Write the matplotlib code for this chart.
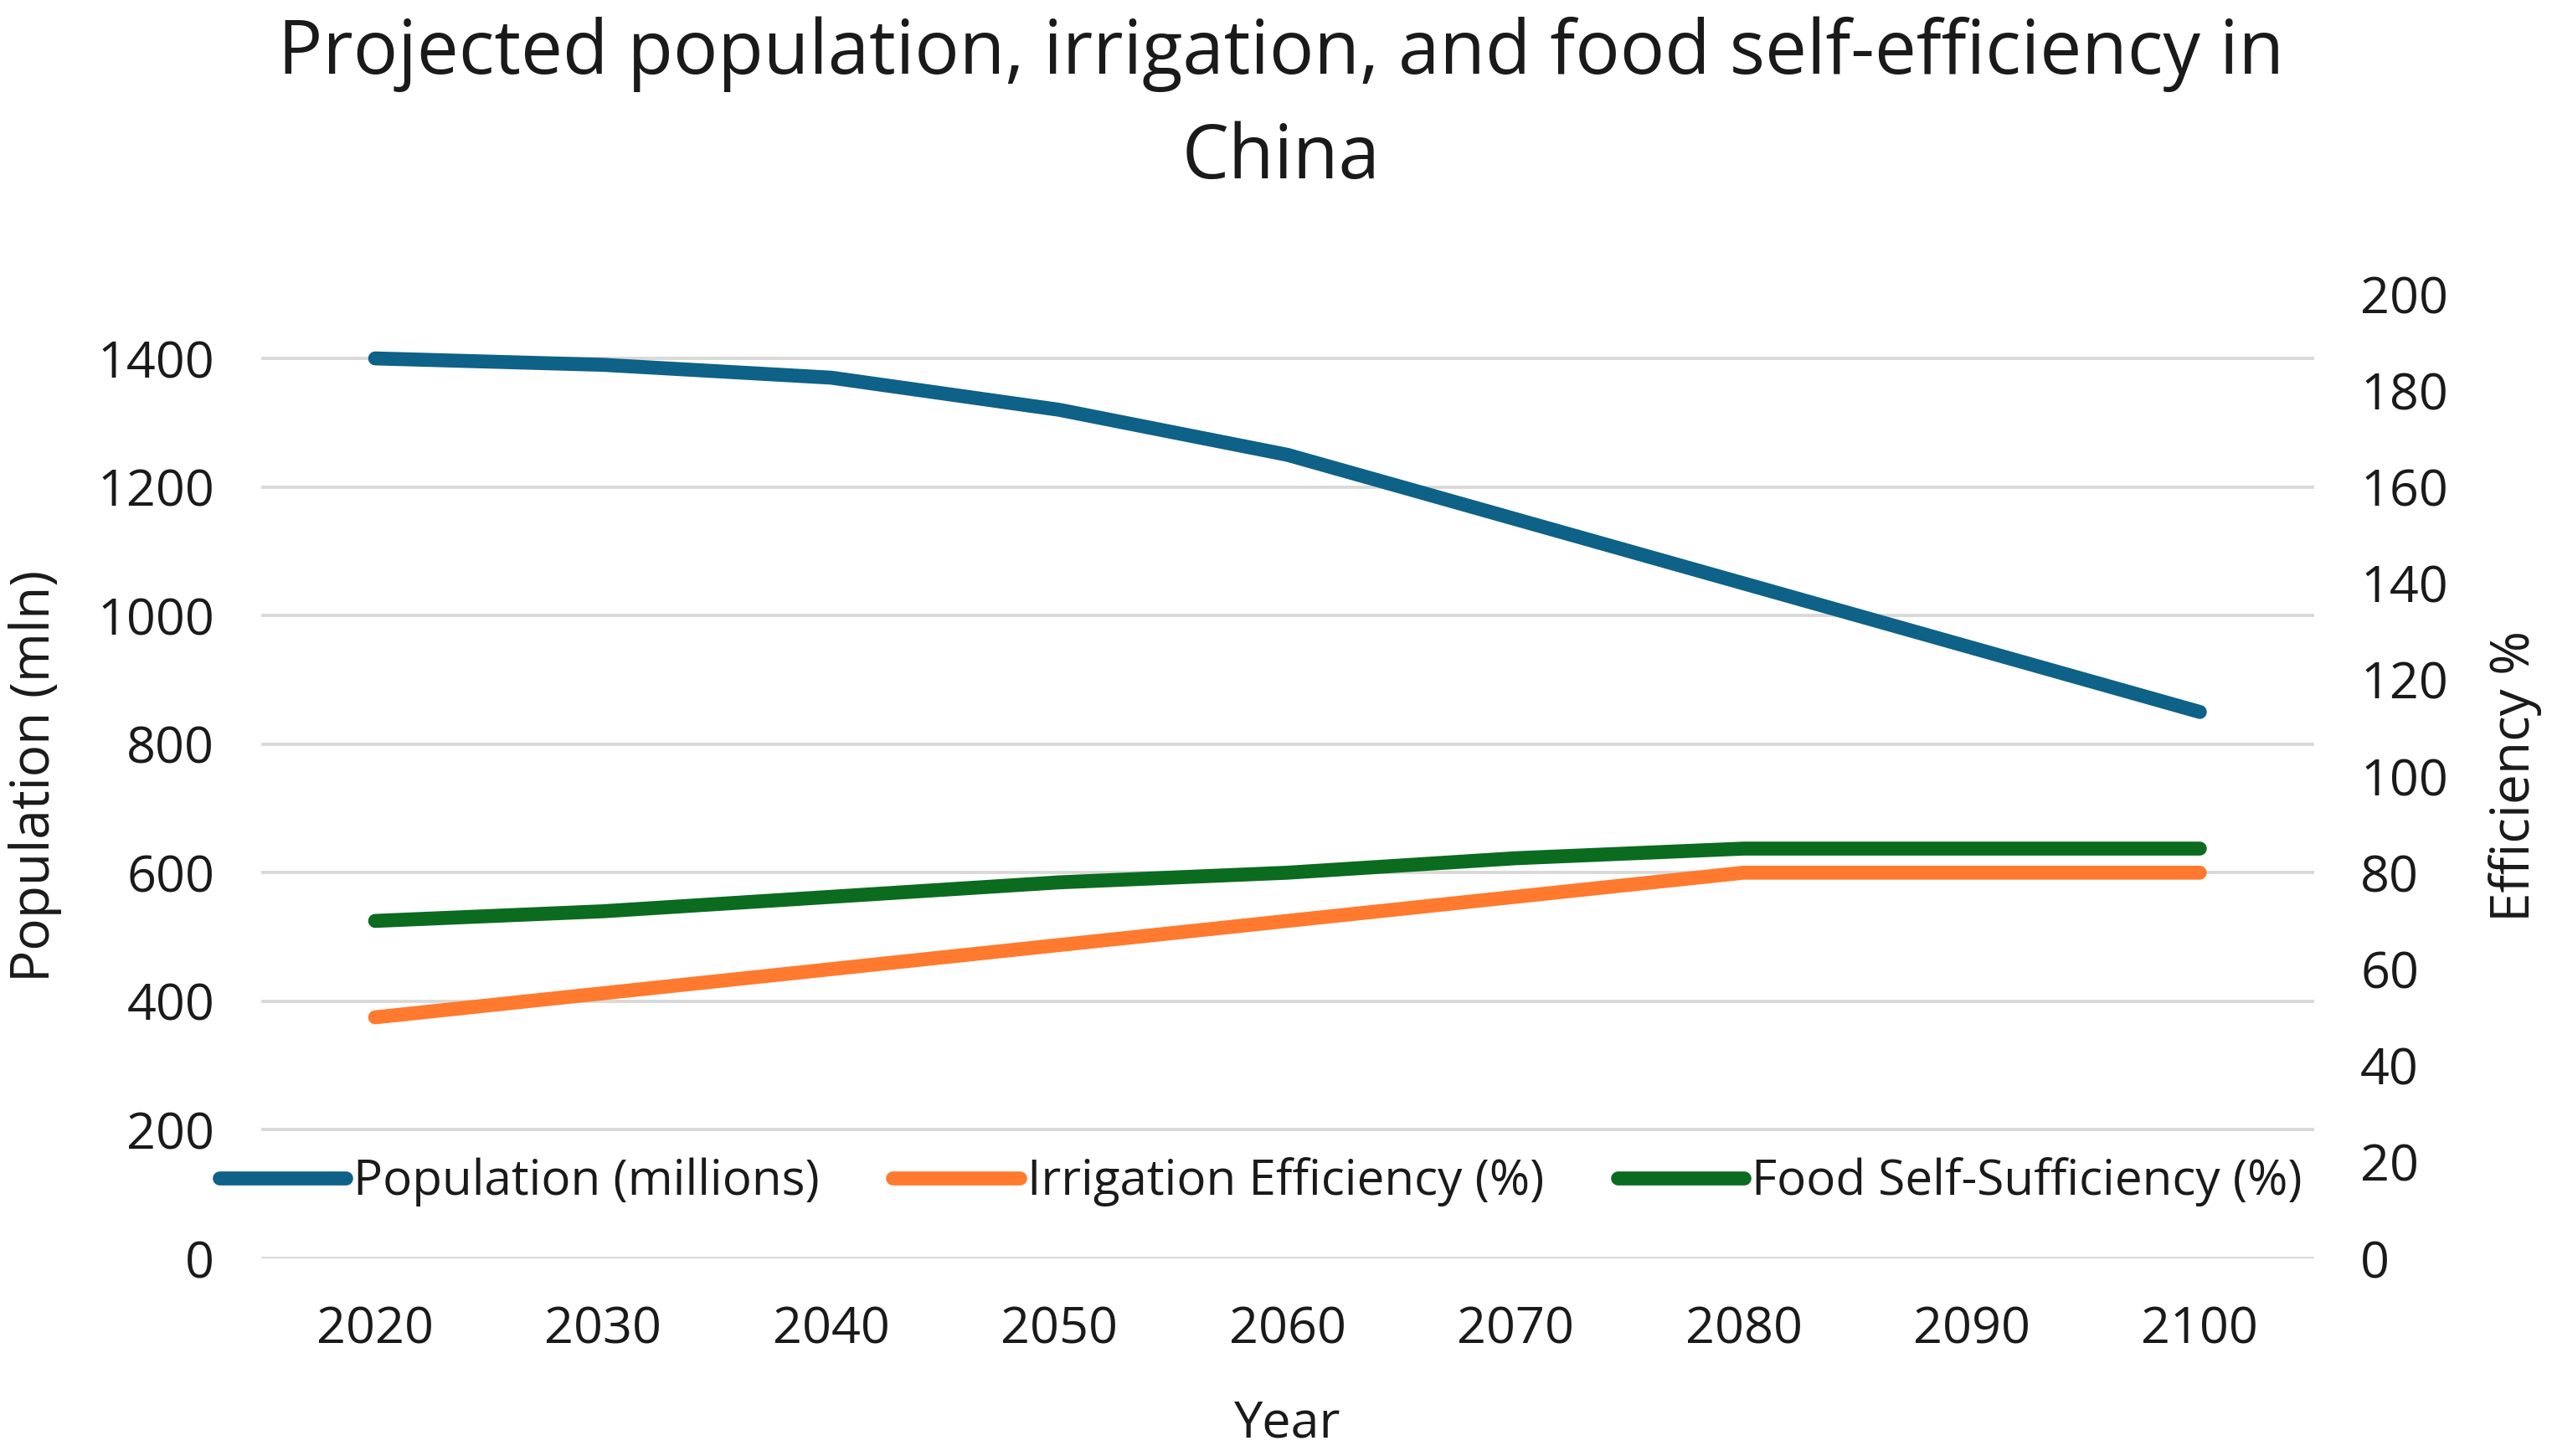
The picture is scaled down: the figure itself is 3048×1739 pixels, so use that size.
import matplotlib
matplotlib.use("Agg")
from matplotlib import pyplot as plt

plt.rcParams["font.family"] = ["Open Sans", "DejaVu Sans"]

years = ["2020", "2030", "2040", "2050", "2060", "2070", "2080", "2090", "2100"]
population = [1400, 1390, 1370, 1320, 1250, 1150, 1050, 950, 850]
irrigation = [50, 55, 60, 65, 70, 75, 80, 80, 80]
food_self = [70, 72, 75, 78, 80, 83, 85, 85, 85]

c_pop = "#0E6187"
c_irr = "#FF7A2E"
c_food = "#0B6B1F"
txt = "#1a1a1a"

fig = plt.figure(figsize=(15.24, 8.695), dpi=200)
ax = fig.add_axes([0.1023, 0.1357, 0.8044, 0.6623])
ax2 = ax.twinx()

x = list(range(len(years)))
l1, = ax.plot(x, population, color=c_pop, lw=6, solid_capstyle="round", label="Population (millions)")
l2, = ax2.plot(x, irrigation, color=c_irr, lw=6, solid_capstyle="round", label="Irrigation Efficiency (%)")
l3, = ax2.plot(x, food_self, color=c_food, lw=6, solid_capstyle="round", label="Food Self-Sufficiency (%)")

ax.set_xlim(-0.5, len(years) - 0.5)
ax.set_ylim(0, 1500)
ax.set_yticks(range(0, 1401, 200))
ax2.set_ylim(0, 200)
ax2.set_yticks(range(0, 201, 20))
ax.set_xticks(x)
ax.set_xticklabels(years)

ax.grid(axis="y", color="#D9D9D9", lw=1.4)
ax.set_axisbelow(True)
for a in (ax, ax2):
    for s in a.spines.values():
        s.set_visible(False)
    a.tick_params(length=0, labelsize=22, colors=txt, pad=20)

ax.set_ylabel("Population (mln)", fontsize=23, color=txt)
ax.yaxis.set_label_coords(-0.097, 0.5)
ax2.set_ylabel("Efficiency %", fontsize=23, color=txt)
ax2.yaxis.set_label_coords(1.085, 0.5)
ax.set_xlabel("Year", fontsize=22, color=txt)
ax.xaxis.set_label_coords(0.5, -0.1455)

fig.text(0.502, 0.963, "Projected population, irrigation, and food self-efficiency in",
         ha="center", va="center", fontsize=32, color=txt)
fig.text(0.502, 0.891, "China", ha="center", va="center", fontsize=32, color=txt)

leg = ax2.legend(handles=[l1, l2, l3], loc="center", bbox_to_anchor=(0.494, 0.1883),
                 bbox_transform=fig.transFigure, ncol=3, frameon=False, fontsize=21,
                 handlelength=2.6, handletextpad=0.15, columnspacing=1.5)
for t in leg.get_texts():
    t.set_color(txt)

fig.savefig("out.png", dpi=200)
